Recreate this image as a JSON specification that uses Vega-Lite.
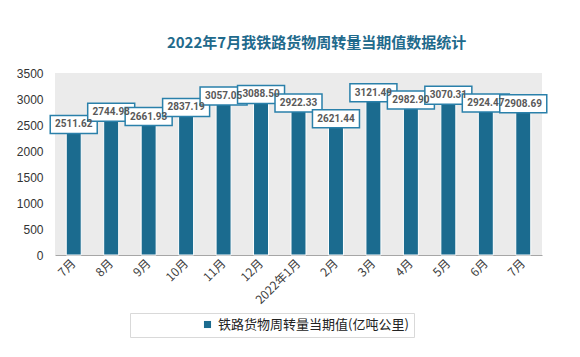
{
  "$schema": "https://vega.github.io/schema/vega-lite/v6.json",
  "width": 487,
  "height": 182,
  "autosize": "none",
  "padding": {"left": 55, "top": 73, "right": 38, "bottom": 102},
  "background": "#ffffff",
  "title": {
    "text": "2022年7月我铁路货物周转量当期值数据统计",
    "font": "Noto Sans CJK SC",
    "fontSize": 15,
    "fontWeight": "bold",
    "color": "#1f6a8c",
    "anchor": "middle",
    "dx": 18,
    "offset": 16
  },
  "config": {
    "view": {"fill": "#ebebeb", "stroke": null},
    "axis": {"labelFont": "Liberation Sans", "labelColor": "#404040", "labelFontSize": 11}
  },
  "data": {
    "values": [
      {"key": "2021-07", "month": "7月", "series": "铁路货物周转量当期值(亿吨公里)", "value": 2511.62},
      {"key": "2021-08", "month": "8月", "series": "铁路货物周转量当期值(亿吨公里)", "value": 2744.98},
      {"key": "2021-09", "month": "9月", "series": "铁路货物周转量当期值(亿吨公里)", "value": 2661.93},
      {"key": "2021-10", "month": "10月", "series": "铁路货物周转量当期值(亿吨公里)", "value": 2837.19},
      {"key": "2021-11", "month": "11月", "series": "铁路货物周转量当期值(亿吨公里)", "value": 3057.05},
      {"key": "2021-12", "month": "12月", "series": "铁路货物周转量当期值(亿吨公里)", "value": 3088.5},
      {"key": "2022-01", "month": "2022年1月", "series": "铁路货物周转量当期值(亿吨公里)", "value": 2922.33},
      {"key": "2022-02", "month": "2月", "series": "铁路货物周转量当期值(亿吨公里)", "value": 2621.44},
      {"key": "2022-03", "month": "3月", "series": "铁路货物周转量当期值(亿吨公里)", "value": 3121.49},
      {"key": "2022-04", "month": "4月", "series": "铁路货物周转量当期值(亿吨公里)", "value": 2982.90},
      {"key": "2022-05", "month": "5月", "series": "铁路货物周转量当期值(亿吨公里)", "value": 3070.31},
      {"key": "2022-06", "month": "6月", "series": "铁路货物周转量当期值(亿吨公里)", "value": 2924.47},
      {"key": "2022-07", "month": "7月", "series": "铁路货物周转量当期值(亿吨公里)", "value": 2908.69}
    ]
  },
  "encoding": {
    "x": {
      "field": "key",
      "type": "ordinal",
      "sort": null,
      "scale": {"paddingInner": 0.6, "paddingOuter": 0.3},
      "axis": {
        "title": null,
        "labelAngle": -45,
        "labelAlign": "right",
        "labelBaseline": "middle",
        "labelPadding": 6,
        "labelFontSize": 12,
        "ticks": false,
        "domainColor": "#a6a6a6",
        "domainWidth": 1,
        "labelExpr": "{'2021-07':'7月','2021-08':'8月','2021-09':'9月','2021-10':'10月','2021-11':'11月','2021-12':'12月','2022-01':'2022年1月','2022-02':'2月','2022-03':'3月','2022-04':'4月','2022-05':'5月','2022-06':'6月','2022-07':'7月'}[datum.value]",
        "labelFont": "Noto Sans CJK SC"
      }
    },
    "y": {
      "field": "value",
      "type": "quantitative",
      "scale": {"domain": [0, 3500]},
      "axis": {
        "title": null,
        "values": [0, 500, 1000, 1500, 2000, 2500, 3000, 3500],
        "format": "d",
        "grid": false,
        "ticks": false,
        "domain": false,
        "labelPadding": 12,
        "labelFontSize": 12,
        "labelColor": "#333333"
      }
    }
  },
  "layer": [
    {
      "mark": {"type": "bar", "stroke": "#ffffff", "strokeWidth": 1},
      "encoding": {
        "color": {
          "field": "series",
          "type": "nominal",
          "scale": {"range": ["#1b6b8f"]},
          "legend": {
            "title": "　　　　",
            "titleOrient": "right",
            "titlePadding": 0,
            "titleFont": "Noto Sans CJK SC",
            "titleFontSize": 13,
            "orient": "none",
            "legendX": 75,
            "legendY": 240,
            "symbolType": "square",
            "symbolSize": 50,
            "symbolStrokeWidth": 0,
            "symbolOffset": 66,
            "labelFont": "Noto Sans CJK SC",
            "labelFontSize": 13,
            "labelColor": "#222222",
            "labelOffset": 4,
            "labelLimit": 450,
            "strokeColor": "#d9d9d9",
            "fillColor": "#ffffff",
            "padding": 5
          }
        }
      }
    },
    {
      "mark": {
        "type": "point",
        "shape": "M-1,-0.383H1V0.383H-1Z",
        "size": 2209,
        "filled": true,
        "fill": "#ffffff",
        "stroke": "#2a80aa",
        "strokeWidth": 1.5,
        "opacity": 1
      }
    },
    {
      "mark": {
        "type": "text",
        "font": "Roboto",
        "fontSize": 10,
        "fontWeight": "bold",
        "color": "#595959",
        "baseline": "middle",
        "align": "center"
      },
      "encoding": {
        "text": {"field": "value", "type": "quantitative", "format": ".2f"}
      }
    }
  ]
}
